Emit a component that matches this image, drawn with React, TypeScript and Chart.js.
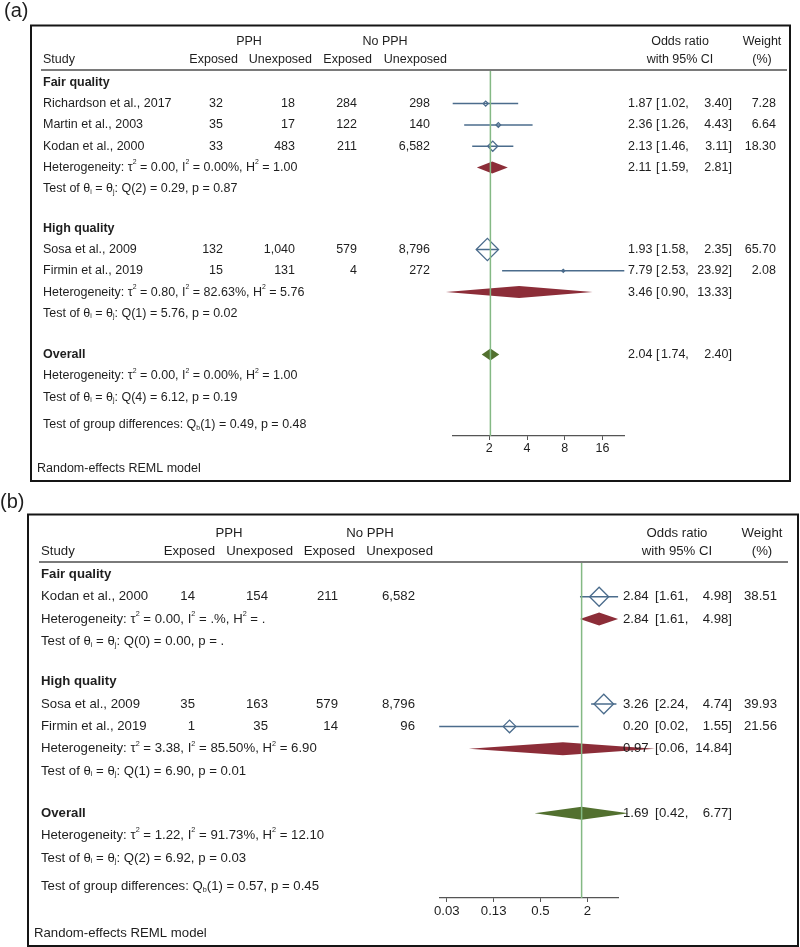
import React, { useEffect, useRef } from "react";
import { Chart, registerables } from "chart.js";

Chart.register(...registerables);

const FONT = '"Liberation Sans", Arial, Helvetica, sans-serif';
const TEXT_COLOR = "#1e1e1e";
const STUDY_COLOR = "#4b6c8c";
const SUBGROUP_COLOR = "#8c2d38";
const OVERALL_COLOR = "#52702f";
const REFLINE_COLOR = "#84b984";
const AXIS_COLOR = "#555555";

const GROUP_HEADERS = ["PPH", "No PPH"];
const COL_HEADERS = ["Exposed", "Unexposed", "Exposed", "Unexposed"];
const MODEL_NOTE = "Random-effects REML model";

// ---------------- Panel (a) data ----------------
const A_STUDIES = ["Richardson et al., 2017", "Martin et al., 2003", "Kodan et al., 2000", "Sosa et al., 2009", "Firmin et al., 2019"];
const A_GROUP_SIZES = [3, 2];
const A_PPH_EXPOSED = [32, 35, 33, 132, 15];
const A_PPH_UNEXPOSED = [18, 17, 483, 1040, 131];
const A_NOPPH_EXPOSED = [284, 122, 211, 579, 4];
const A_NOPPH_UNEXPOSED = [298, 140, 6582, 8796, 272];
const A_OR = [1.87, 2.36, 2.13, 1.93, 7.79];
const A_LOWER = [1.02, 1.26, 1.46, 1.58, 2.53];
const A_UPPER = [3.4, 4.43, 3.11, 2.35, 23.92];
const A_WEIGHT = [7.28, 6.64, 18.3, 65.7, 2.08];
const A_GROUPS = ["Fair quality", "High quality"];
const A_GROUP_OR = [2.11, 3.46];
const A_GROUP_LOWER = [1.59, 0.9];
const A_GROUP_UPPER = [2.81, 13.33];
const A_GROUP_HET = [
  "Heterogeneity: τ^{2} = 0.00, I^{2} = 0.00%, H^{2} = 1.00",
  "Heterogeneity: τ^{2} = 0.80, I^{2} = 82.63%, H^{2} = 5.76",
];
const A_GROUP_TEST = [
  "Test of θ_{i} = θ_{j}: Q(2) = 0.29, p = 0.87",
  "Test of θ_{i} = θ_{j}: Q(1) = 5.76, p = 0.02",
];
const A_OVERALL = [2.04, 1.74, 2.4];
const A_OVERALL_HET = "Heterogeneity: τ^{2} = 0.00, I^{2} = 0.00%, H^{2} = 1.00";
const A_OVERALL_TEST = "Test of θ_{i} = θ_{j}: Q(4) = 6.12, p = 0.19";
const A_GROUP_DIFF = "Test of group differences: Q_{b}(1) = 0.49, p = 0.48";
const A_TICKS = [2, 4, 8, 16];
const A_TICK_LABELS = ["2", "4", "8", "16"];
const A_AXIS_RANGE = [1.02, 23.92];

// ---------------- Panel (b) data ----------------
const B_STUDIES = ["Kodan et al., 2000", "Sosa et al., 2009", "Firmin et al., 2019"];
const B_GROUP_SIZES = [1, 2];
const B_PPH_EXPOSED = [14, 35, 1];
const B_PPH_UNEXPOSED = [154, 163, 35];
const B_NOPPH_EXPOSED = [211, 579, 14];
const B_NOPPH_UNEXPOSED = [6582, 8796, 96];
const B_OR = [2.84, 3.26, 0.2];
const B_LOWER = [1.61, 2.24, 0.0249];
const B_UPPER = [4.98, 4.74, 1.55];
const B_WEIGHT = [38.51, 39.93, 21.56];
const B_GROUPS = ["Fair quality", "High quality"];
const B_GROUP_OR = [2.84, 0.97];
const B_GROUP_LOWER = [1.61, 0.06];
const B_GROUP_UPPER = [4.98, 14.84];
const B_GROUP_HET = [
  "Heterogeneity: τ^{2} = 0.00, I^{2} = .%, H^{2} = .",
  "Heterogeneity: τ^{2} = 3.38, I^{2} = 85.50%, H^{2} = 6.90",
];
const B_GROUP_TEST = [
  "Test of θ_{i} = θ_{j}: Q(0) = 0.00, p = .",
  "Test of θ_{i} = θ_{j}: Q(1) = 6.90, p = 0.01",
];
const B_OVERALL = [1.69, 0.42, 6.77];
const B_OVERALL_HET = "Heterogeneity: τ^{2} = 1.22, I^{2} = 91.73%, H^{2} = 12.10";
const B_OVERALL_TEST = "Test of θ_{i} = θ_{j}: Q(2) = 6.92, p = 0.03";
const B_GROUP_DIFF = "Test of group differences: Q_{b}(1) = 0.57, p = 0.45";
const B_TICKS = [0.03125, 0.125, 0.5, 2];
const B_TICK_LABELS = ["0.03", "0.13", "0.5", "2"];
const B_AXIS_RANGE = [0.0249, 4.98];

const PANEL_A = {
  label: "(a)",
  studies: A_STUDIES, groupSizes: A_GROUP_SIZES,
  counts: [A_PPH_EXPOSED, A_PPH_UNEXPOSED, A_NOPPH_EXPOSED, A_NOPPH_UNEXPOSED],
  or: A_OR, lower: A_LOWER, upper: A_UPPER, weight: A_WEIGHT,
  groups: A_GROUPS, groupOr: A_GROUP_OR, groupLower: A_GROUP_LOWER, groupUpper: A_GROUP_UPPER,
  groupHet: A_GROUP_HET, groupTest: A_GROUP_TEST,
  overall: A_OVERALL, overallHet: A_OVERALL_HET, overallTest: A_OVERALL_TEST, groupDiff: A_GROUP_DIFF,
  ticks: A_TICKS, tickLabels: A_TICK_LABELS, axisRange: A_AXIS_RANGE,
};

const PANEL_B = {
  label: "(b)",
  studies: B_STUDIES, groupSizes: B_GROUP_SIZES,
  counts: [B_PPH_EXPOSED, B_PPH_UNEXPOSED, B_NOPPH_EXPOSED, B_NOPPH_UNEXPOSED],
  or: B_OR, lower: B_LOWER, upper: B_UPPER, weight: B_WEIGHT,
  groups: B_GROUPS, groupOr: B_GROUP_OR, groupLower: B_GROUP_LOWER, groupUpper: B_GROUP_UPPER,
  groupHet: B_GROUP_HET, groupTest: B_GROUP_TEST,
  overall: B_OVERALL, overallHet: B_OVERALL_HET, overallTest: B_OVERALL_TEST, groupDiff: B_GROUP_DIFF,
  ticks: B_TICKS, tickLabels: B_TICK_LABELS, axisRange: B_AXIS_RANGE,
};

// ---------------- Layout (positions / sizes) ----------------
const LAYOUT_A = {
  height: 486, fontSize: 12.5,
  label: { x: 4, y: 11, size: 20 },
  box: { x1: 31, y1: 25.5, x2: 790, y2: 481 },
  headTopY: 42, headY: 60, ruleY: 70, ruleX1: 41, ruleX2: 787,
  groupHeadX: [249, 385], studyX: 43,
  colHeadR: [238, 312, 372, 447], colR: [223, 295, 357, 430],
  orHeadX: 680, weightHeadX: 762, orX: 628, bracketX: 656, loX: 661, hiR: 732, weightR: 776,
  noteX: 37,
  row0: 82.3, rowH: 21.3, gapGroup: 1.85, gapOverall: 1.93, gapDiff: 1.3, gapNote: 2.04,
  plotTop: 71, plotBottom: 436, plotLeft: 452.7, plotRight: 624.3,
  markerA: 1.6, markerB: -1.8, diamondHalf: 6,
};

const LAYOUT_B = {
  height: 461, fontSize: 13.2,
  label: { x: 0, y: 16, size: 20 },
  box: { x1: 28, y1: 28.5, x2: 798, y2: 460 },
  headTopY: 47, headY: 65, ruleY: 76, ruleX1: 39, ruleX2: 788,
  groupHeadX: [229, 370], studyX: 41,
  colHeadR: [215, 293, 355, 433], colR: [195, 268, 338, 415],
  orHeadX: 677, weightHeadX: 762, orX: 623, bracketX: 655, loX: 659, hiR: 732, weightR: 777,
  noteX: 34,
  row0: 88.3, rowH: 22.4, gapGroup: 1.79, gapOverall: 1.88, gapDiff: 1.28, gapNote: 2.08,
  plotTop: 77, plotBottom: 412, plotLeft: 439.2, plotRight: 618.1,
  markerA: 2.05, markerB: -3.2, diamondHalf: 6.5,
};

const WIDTH = 800;
const AXIS_H = 20;

function buildRows(groupSizes: number[], L: any) {
  const titles: number[] = [];
  const study: number[] = [];
  const het: number[] = [];
  const test: number[] = [];
  let r = 0;
  groupSizes.forEach((n, g) => {
    if (g > 0) r = test[g - 1] + L.gapGroup;
    titles.push(r);
    for (let i = 0; i < n; i++) {
      r += 1;
      study.push(r);
    }
    r += 1;
    het.push(r);
    r += 1;
    test.push(r);
  });
  const overall = r + L.gapOverall;
  const overallHet = overall + 1;
  const overallTest = overall + 2;
  const diff = overallTest + L.gapDiff;
  const note = diff + L.gapNote;
  return { titles, study, het, test, overall, overallHet, overallTest, diff, note };
}

function parseRich(s: string) {
  const out: { t: string; k: string }[] = [];
  const re = /\^\{([^}]*)\}|_\{([^}]*)\}/g;
  let last = 0;
  let m: RegExpExecArray | null;
  while ((m = re.exec(s))) {
    if (m.index > last) out.push({ t: s.slice(last, m.index), k: "n" });
    if (m[1] !== undefined) out.push({ t: m[1], k: "sup" });
    else out.push({ t: m[2], k: "sub" });
    last = re.lastIndex;
  }
  if (last < s.length) out.push({ t: s.slice(last), k: "n" });
  return out;
}

function drawText(ctx: CanvasRenderingContext2D, s: string, x: number, y: number, size: number, align = "left", bold = false) {
  const segs = parseRich(s);
  const main = `${bold ? "bold " : ""}${size}px ${FONT}`;
  const small = `${(size * 0.55).toFixed(2)}px ${FONT}`;
  const widths = segs.map((g) => {
    ctx.font = g.k === "n" ? main : small;
    return ctx.measureText(g.t).width;
  });
  const total = widths.reduce((a, b) => a + b, 0);
  let cx = align === "left" ? x : align === "right" ? x - total : x - total / 2;
  ctx.textAlign = "left";
  ctx.textBaseline = "middle";
  ctx.fillStyle = TEXT_COLOR;
  segs.forEach((g, i) => {
    ctx.font = g.k === "n" ? main : small;
    const dy = g.k === "sup" ? -size * 0.4 : g.k === "sub" ? size * 0.25 : 0;
    ctx.fillText(g.t, cx, y + dy);
    cx += widths[i];
  });
}

const fmtInt = (n: number) => String(n).replace(/\B(?=(\d{3})+(?!\d))/g, ",");

function Panel({ D, L }: { D: any; L: any }) {
  const ref = useRef<HTMLCanvasElement | null>(null);

  useEffect(() => {
    const canvas = ref.current;
    if (!canvas) return;
    const rows = buildRows(D.groupSizes, L);
    const yMin = (L.plotTop - L.row0) / L.rowH;
    const yMax = (L.plotBottom - L.row0) / L.rowH;
    const fs = L.fontSize;

    const ciDatasets = D.studies.map((_: string, i: number) => ({
      type: "line",
      data: [
        { x: D.lower[i], y: rows.study[i] },
        { x: D.upper[i], y: rows.study[i] },
      ],
      borderColor: STUDY_COLOR,
      borderWidth: 1.5,
      pointRadius: 0,
      showLine: true,
      clip: false,
      order: 2,
    }));

    const markerDataset = {
      type: "scatter",
      data: D.or.map((v: number, i: number) => ({ x: v, y: rows.study[i] })),
      pointStyle: "rectRot",
      pointRadius: D.weight.map((w: number) => Math.max(1.5, L.markerA * Math.sqrt(w) + L.markerB)),
      borderColor: STUDY_COLOR,
      backgroundColor: "rgba(0,0,0,0)",
      borderWidth: 1.3,
      clip: false,
      order: 1,
    };

    const refLine = {
      type: "line",
      data: [
        { x: D.overall[0], y: yMin },
        { x: D.overall[0], y: yMax },
      ],
      borderColor: REFLINE_COLOR,
      borderWidth: 1.5,
      pointRadius: 0,
      clip: false,
      order: 0,
    };

    const diamondPlugin = {
      id: "diamonds",
      beforeDatasetsDraw(chart: any) {
        const ctx = chart.ctx;
        const xs = chart.scales.x;
        const ys = chart.scales.y;
        const draw = (est: number, lo: number, hi: number, row: number, color: string) => {
          const y = ys.getPixelForValue(row);
          const h = L.diamondHalf;
          ctx.beginPath();
          ctx.moveTo(xs.getPixelForValue(lo), y);
          ctx.lineTo(xs.getPixelForValue(est), y - h);
          ctx.lineTo(xs.getPixelForValue(hi), y);
          ctx.lineTo(xs.getPixelForValue(est), y + h);
          ctx.closePath();
          ctx.fillStyle = color;
          ctx.fill();
        };
        ctx.save();
        D.groups.forEach((_: string, g: number) =>
          draw(D.groupOr[g], D.groupLower[g], D.groupUpper[g], rows.het[g], SUBGROUP_COLOR)
        );
        draw(D.overall[0], D.overall[1], D.overall[2], rows.overall, OVERALL_COLOR);
        ctx.restore();
      },
    };

    const tablePlugin = {
      id: "table",
      afterDraw(chart: any) {
        const ctx: CanvasRenderingContext2D = chart.ctx;
        const ys = chart.scales.y;
        const Y = (r: number) => ys.getPixelForValue(r);
        ctx.save();
        drawText(ctx, D.label, L.label.x, L.label.y, L.label.size);
        ctx.strokeStyle = "#151515";
        ctx.lineWidth = 2;
        ctx.strokeRect(L.box.x1, L.box.y1, L.box.x2 - L.box.x1, L.box.y2 - L.box.y1);
        GROUP_HEADERS.forEach((h, i) => drawText(ctx, h, L.groupHeadX[i], L.headTopY, fs, "center"));
        drawText(ctx, "Study", L.studyX, L.headY, fs);
        COL_HEADERS.forEach((h, i) => drawText(ctx, h, L.colHeadR[i], L.headY, fs, "right"));
        drawText(ctx, "Odds ratio", L.orHeadX, L.headTopY, fs, "center");
        drawText(ctx, "with 95% CI", L.orHeadX, L.headY, fs, "center");
        drawText(ctx, "Weight", L.weightHeadX, L.headTopY, fs, "center");
        drawText(ctx, "(%)", L.weightHeadX, L.headY, fs, "center");
        ctx.strokeStyle = "#7a7a7a";
        ctx.lineWidth = 2;
        ctx.beginPath();
        ctx.moveTo(L.ruleX1, L.ruleY);
        ctx.lineTo(L.ruleX2, L.ruleY);
        ctx.stroke();

        const drawOR = (est: number, lo: number, hi: number, y: number) => {
          drawText(ctx, est.toFixed(2), L.orX, y, fs);
          drawText(ctx, "[", L.bracketX, y, fs);
          drawText(ctx, lo.toFixed(2) + ",", L.loX, y, fs);
          drawText(ctx, hi.toFixed(2) + "]", L.hiR, y, fs, "right");
        };

        D.groups.forEach((name: string, g: number) => {
          drawText(ctx, name, L.studyX, Y(rows.titles[g]), fs, "left", true);
          drawText(ctx, D.groupHet[g], L.studyX, Y(rows.het[g]), fs);
          drawOR(D.groupOr[g], D.groupLower[g], D.groupUpper[g], Y(rows.het[g]));
          drawText(ctx, D.groupTest[g], L.studyX, Y(rows.test[g]), fs);
        });

        D.studies.forEach((name: string, i: number) => {
          const y = Y(rows.study[i]);
          drawText(ctx, name, L.studyX, y, fs);
          D.counts.forEach((col: number[], c: number) => drawText(ctx, fmtInt(col[i]), L.colR[c], y, fs, "right"));
          drawOR(D.or[i], D.lower[i], D.upper[i], y);
          drawText(ctx, D.weight[i].toFixed(2), L.weightR, y, fs, "right");
        });

        drawText(ctx, "Overall", L.studyX, Y(rows.overall), fs, "left", true);
        drawOR(D.overall[0], D.overall[1], D.overall[2], Y(rows.overall));
        drawText(ctx, D.overallHet, L.studyX, Y(rows.overallHet), fs);
        drawText(ctx, D.overallTest, L.studyX, Y(rows.overallTest), fs);
        drawText(ctx, D.groupDiff, L.studyX, Y(rows.diff), fs);
        drawText(ctx, MODEL_NOTE, L.noteX, Y(rows.note), fs);
        ctx.restore();
      },
    };

    const chart = new Chart(canvas, {
      type: "scatter",
      data: { datasets: [...ciDatasets, markerDataset, refLine] as any },
      options: {
        responsive: false,
        animation: false,
        events: [],
        layout: {
          padding: {
            left: L.plotLeft,
            right: WIDTH - L.plotRight,
            top: L.plotTop,
            bottom: L.height - L.plotBottom - AXIS_H,
          },
        },
        plugins: { legend: { display: false }, tooltip: { enabled: false } },
        scales: {
          x: {
            type: "logarithmic",
            min: D.axisRange[0],
            max: D.axisRange[1],
            bounds: "data",
            offset: false,
            afterBuildTicks: (s: any) => {
              s.ticks = D.ticks.map((v: number) => ({ value: v }));
            },
            afterFit: (s: any) => {
              s.height = AXIS_H;
            },
            ticks: {
              autoSkip: false,
              maxRotation: 0,
              minRotation: 0,
              padding: 1,
              color: TEXT_COLOR,
              font: { family: FONT, size: fs },
              callback: (_v: any, i: number) => D.tickLabels[i],
            },
            grid: {
              display: true,
              drawOnChartArea: false,
              drawTicks: true,
              tickLength: 4,
              color: AXIS_COLOR,
              lineWidth: 1,
            },
            border: { display: true, color: AXIS_COLOR, width: 1.2 },
          },
          y: {
            type: "linear",
            reverse: true,
            min: yMin,
            max: yMax,
            bounds: "data",
            display: false,
          },
        },
      } as any,
      plugins: [diamondPlugin, tablePlugin],
    });
    return () => chart.destroy();
  }, [D, L]);

  return (
    <canvas
      ref={ref}
      width={WIDTH}
      height={L.height}
      style={{ display: "block", width: WIDTH, height: L.height }}
    />
  );
}

export default function App() {
  return (
    <div style={{ position: "absolute", left: 0, top: 0, width: WIDTH, height: 947, background: "#fff" }}>
      <Panel D={PANEL_A} L={LAYOUT_A} />
      <Panel D={PANEL_B} L={LAYOUT_B} />
    </div>
  );
}
